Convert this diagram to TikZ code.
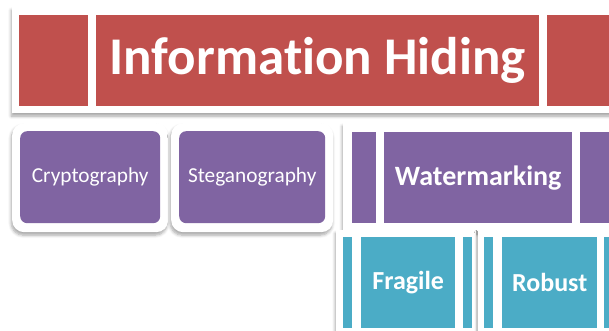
\documentclass[tikz,border=0pt]{standalone}
\usepackage{fontspec}
\setmainfont[Ligatures=NoCommon]{Carlito}
\usetikzlibrary{shadows.blur}
\definecolor{hidered}{HTML}{C0504D}
\definecolor{markpurple}{HTML}{8064A2}
\definecolor{kindteal}{HTML}{4BACC6}
\tikzset{
  wh/.style 2 args={minimum width=#1pt, minimum height=#2pt},
  panel/.style={fill=white, draw=none, rectangle, anchor=north west, inner sep=0pt,
    blur shadow={shadow xshift=-1pt, shadow yshift=-3pt, shadow blur steps=6, shadow opacity=35, shadow blur radius=3pt}},
  frame/.style={panel, rounded corners=12pt},
  tile/.style={rectangle, draw=none, anchor=north west, inner sep=0pt, text=white},
  redtile/.style={tile, fill=hidered},
  purpletile/.style={tile, fill=markpurple},
  tealtile/.style={tile, fill=kindteal},
}
\begin{document}
\begin{tikzpicture}[x=1pt, y=-1pt]
  \useasboundingbox (0,0) rectangle (609,331);
  \clip (0,0) rectangle (609,331);

  % top level: Information Hiding
  \node[panel, wh={620}{106}] (topPanel) at (12,7) {};
  \node[redtile, wh={69}{91}] (redL) at (19,15) {};
  \node[redtile, wh={443}{91}, font=\fontsize{53}{53}\selectfont\bfseries] (hiding) at (96,15) {Information Hiding};
  \node[redtile, wh={80}{91}] (redR) at (547,15) {};

  % second level
  \node[frame, wh={156}{109}] (cryFrame) at (12,123) {};
  \node[purpletile, rounded corners=7pt, wh={140}{92}, font=\fontsize{21.3}{21.3}\selectfont] (crypto) at (20,131) {Cryptography};
  \node[frame, wh={162}{109}] (stegFrame) at (171,123) {};
  \node[purpletile, rounded corners=7pt, wh={146}{92}, font=\fontsize{21.3}{21.3}\selectfont] (stego) at (179,131) {Steganography};

  \node[panel, wh={280}{108}] (wmPanel) at (343,123) {};
  \node[purpletile, wh={24}{91}] (wmL) at (352,132) {};
  \node[purpletile, wh={188}{91}, font=\fontsize{28}{28}\selectfont\bfseries] (water) at (384,132) {Watermarking};
  \node[purpletile, wh={40}{91}] (wmR) at (580,132) {};

  % third level
  \node[panel, wh={140}{110}] (fragPanel) at (336,230) {};
  \node[tealtile, wh={9}{91}] (fragL) at (343,237) {};
  \node[tealtile, wh={94}{91}, font=\fontsize{26}{26}\selectfont\bfseries] (fragile) at (361,237) {Fragile};
  \node[tealtile, wh={9}{91}] (fragR) at (463,237) {};

  \node[panel, wh={150}{110}] (robPanel) at (478,230) {};
  \node[tealtile, wh={9}{91}] (robL) at (484,237) {};
  \node[tealtile, wh={95}{91}, font=\fontsize{26}{26}\selectfont\bfseries] (robust) at (502,237) {Robust};
  \node[tealtile, wh={20}{91}] (robR) at (604,237) {};
\end{tikzpicture}
\end{document}
